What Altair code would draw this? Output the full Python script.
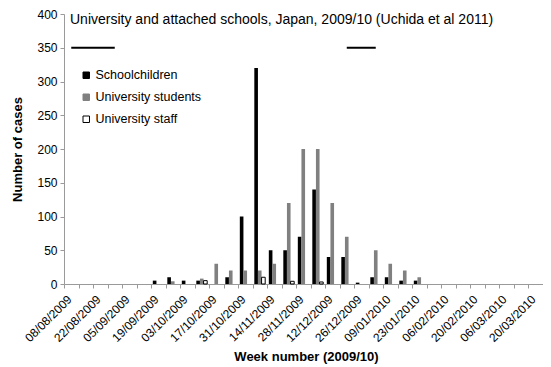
import json
import altair as alt
import pandas as pd

weeks = ["08/08/2009", "15/08/2009", "22/08/2009", "29/08/2009", "05/09/2009", "12/09/2009",
         "19/09/2009", "26/09/2009", "03/10/2009", "10/10/2009", "17/10/2009", "24/10/2009",
         "31/10/2009", "07/11/2009", "14/11/2009", "21/11/2009", "28/11/2009", "05/12/2009",
         "12/12/2009", "19/12/2009", "26/12/2009", "02/01/2010", "09/01/2010", "16/01/2010",
         "23/01/2010", "30/01/2010", "06/02/2010", "13/02/2010", "20/02/2010", "27/02/2010",
         "06/03/2010", "13/03/2010", "20/03/2010", "27/03/2010"]

schoolchildren = [0, 0, 0, 0, 0, 0, 5, 10, 5, 5, 0, 10, 100, 320, 50, 50, 70, 140, 40, 40,
                  2, 10, 10, 5, 5, 0, 0, 0, 0, 0, 0, 0, 0, 0]
univ_students = [0, 0, 0, 0, 0, 0, 0, 4, 0, 8, 30, 20, 20, 20, 30, 120, 200, 200, 120, 70,
                 0, 50, 30, 20, 10, 0, 0, 0, 0, 0, 0, 0, 0, 0]
univ_staff = [0, 0, 0, 0, 0, 0, 0, 0, 0, 5, 0, 0, 0, 10, 0, 4, 0, 3, 0, 0,
              0, 0, 0, 0, 0, 0, 0, 0, 0, 0, 0, 0, 0, 0]

series_names = ["Schoolchildren", "University students", "University staff"]
fill_colors = ["#000000", "#808080", "#ffffff"]
stroke_colors = ["#000000", "#808080", "#000000"]

closure_start = ["08/08/2009", "19/12/2009"]
closure_end = ["29/08/2009", "02/01/2010"]
closure_level = [350, 350]

title_text = "University and attached schools, Japan, 2009/10 (Uchida et al 2011)"

FONT = "Liberation Sans"

rows = []
for name, vals in zip(series_names, [schoolchildren, univ_students, univ_staff]):
    for w, v in zip(weeks, vals):
        if v > 0:
            rows.append({"week": w, "series": name, "cases": v})
bars_df = pd.DataFrame(rows)

closure_df = pd.DataFrame({"start": closure_start, "end": closure_end, "level": closure_level})

x_scale = alt.Scale(domain=weeks, paddingInner=0, paddingOuter=0)
y_scale = alt.Scale(domain=[0, 400], nice=False)

label_expr = "indexof(" + json.dumps(weeks) + ", datum.value) % 2 === 0 ? datum.label : ''"

x_axis = alt.Axis(title="Week number (2009/10)", tickBand="extent", labelAngle=-45,
                  labelAlign="right", labelBaseline="middle",
                  labelExpr=label_expr, labelFontSize=12, labelPadding=9, labelOffset=-2,
                  titleFontSize=13, titleFontWeight="bold", titlePadding=7,
                  titleX=242)
y_axis = alt.Axis(title="Number of cases", values=list(range(0, 401, 50)),
                  titleFontSize=13, titleFontWeight="bold", titlePadding=12,
                  labelFontSize=12, labelPadding=3)

legend = alt.Legend(title=None, orient="none", legendX=16, legendY=55,
                    symbolType="square", symbolSize=42, labelFontSize=12.5,
                    rowPadding=9, labelOffset=3, padding=0, symbolStrokeWidth=1)

bars = alt.Chart(bars_df).mark_bar().encode(
    x=alt.X("week:N", scale=x_scale, sort=weeks, axis=x_axis),
    xOffset=alt.XOffset("series:N", sort=series_names,
                        scale=alt.Scale(domain=series_names, paddingInner=0, paddingOuter=0.5)),
    y=alt.Y("cases:Q", scale=y_scale, axis=y_axis),
    fill=alt.Fill("series:N", sort=series_names,
                  scale=alt.Scale(domain=series_names, range=fill_colors),
                  legend=legend),
    stroke=alt.Stroke("series:N", sort=series_names,
                      scale=alt.Scale(domain=series_names, range=stroke_colors),
                      legend=legend),
    strokeWidth=alt.condition(alt.datum.series == "University staff",
                              alt.value(1), alt.value(0)),
)

closures = alt.Chart(closure_df).mark_rule(color="#000000", strokeWidth=2).encode(
    x=alt.X("start:N", scale=x_scale, sort=weeks, axis=x_axis),
    x2="end:N",
    y=alt.Y("level:Q", scale=y_scale, axis=y_axis),
)

title_layer = alt.Chart(pd.DataFrame({"t": [title_text]})).mark_text(
    align="left", baseline="middle", fontSize=14, font=FONT, color="#000000"
).encode(text="t:N", x=alt.value(6), y=alt.value(6))

chart = alt.layer(bars, closures, title_layer).properties(
    width=493, height=270,
    autosize=alt.AutoSizeParams(type="none"),
    padding={"left": 56, "top": 6, "right": -14, "bottom": 82},
).configure(font=FONT).configure_view(stroke=None).configure_axis(
    domainColor="#9a9a9a", tickColor="#9a9a9a", tickSize=4, labelColor="#000000",
    titleColor="#000000", grid=False, labelFont=FONT, titleFont=FONT
).configure_legend(labelFont=FONT, labelColor="#000000")

chart.save("out.html", embed_options={"renderer": "svg", "actions": False})
